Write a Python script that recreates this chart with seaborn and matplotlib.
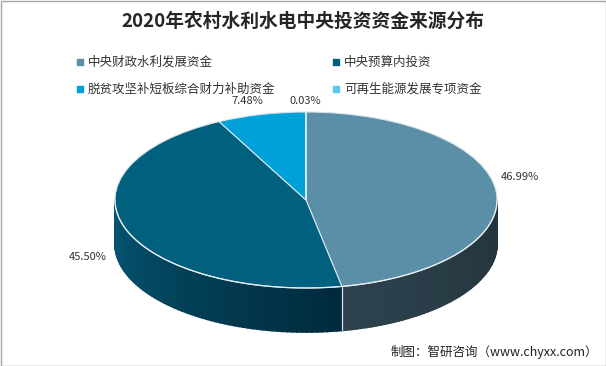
import numpy as np
import seaborn as sns
import matplotlib.pyplot as plt
from matplotlib.transforms import Affine2D
from matplotlib.colors import to_rgb

# data
categories = ['中央财政水利发展资金', '中央预算内投资', '脱贫攻坚补短板综合财力补助资金', '可再生能源发展专项资金']
shares = [46.99, 45.50, 7.48, 0.03]
pct_labels = ['46.99%', '45.50%', '7.48%', '0.03%']
top_colors = ['#5b8fa8', '#02607f', '#00a0d9', '#5bc8f0']
side_colors = [('#2e434e', '#22343d'), ('#045876', '#012a3c'), ('#00809f', '#005f7f'), ('#4aa8c8', '#3a90b0')]

sns.set_theme(style='white')
plt.rcParams['font.family'] = ['Noto Sans CJK SC', 'DejaVu Sans']

fig = plt.figure(figsize=(6.06, 3.66), dpi=100)
ax = fig.add_axes([0, 0, 1, 1])

cx, cy, r = 306, 166, 191
k = 88 / 191
depth = 44
squash = Affine2D().translate(-cx, -cy).scale(1, k).translate(cx, cy) + ax.transData

# top face
wedges, _ = ax.pie(shares, colors=top_colors, startangle=90, counterclock=False,
                   center=(cx, cy), radius=r, frame=True,
                   wedgeprops=dict(edgecolor='#d8e4ea', linewidth=0.8))
ax.set_xlim(0, 606)
ax.set_ylim(0, 366)
ax.set_aspect('auto')
ax.axis('off')
for w in wedges:
    w.set_transform(squash)
    w.set_zorder(3)

# front side of the cylinder, drawn as thin shaded strips
for w, (c0, c1) in zip(wedges, side_colors):
    t1, t2 = w.theta1, w.theta2
    # bring the range into the front half (-180..0)
    for shift in (-360, 0, 360):
        a, b = max(t1 + shift, -180), min(t2 + shift, 0)
        if b <= a:
            continue
        n = max(int((b - a) / 1.5), 1)
        edges = np.linspace(a, b, n + 1)
        ca, cb = np.array(to_rgb(c0)), np.array(to_rgb(c1))
        for i in range(n):
            th = np.radians(np.linspace(edges[i], edges[i + 1], 4))
            xs = cx + r * np.cos(th)
            ys = cy + r * k * np.sin(th)
            f = (i + 0.5) / n
            col = ca * (1 - f) + cb * f
            ax.fill(np.r_[xs, xs[::-1]], np.r_[ys, ys[::-1] - depth],
                    color=col, lw=1.2, ec=col, zorder=2)
        # boundary lines at the visible cut
        for edge in (a, b):
            if -179 < edge < -1:
                ex = cx + r * np.cos(np.radians(edge))
                ey = cy + r * k * np.sin(np.radians(edge))
                ax.plot([ex, ex], [ey, ey - depth], color='#d8e4ea', lw=0.8, zorder=4)

# light rim on the front edge
th = np.radians(np.linspace(-180, 0, 200))
ax.plot(cx + r * np.cos(th), cy + r * k * np.sin(th), color='#e6eef2', lw=0.9, zorder=4)

# percentage labels
label_pos = [(520, 189), (88, 109), (247, 265), (305, 265)]
for (x, y), t in zip(label_pos, pct_labels):
    ax.text(x, y, t, fontsize=8, color='#333333', ha='center', va='center', zorder=5)

# title
fig.text(0.5, 1 - 21 / 366, '2020年农村水利水电中央投资资金来源分布', ha='center', va='center',
         fontsize=13.5, fontweight='bold', color='#262626')

# legend
leg_pos = [(80, 62), (336, 62), (80, 89), (336, 89)]
for (x, y), c, t in zip(leg_pos, top_colors, categories):
    ax.scatter([x], [366 - y], marker='s', s=14, color=c, zorder=5)
    ax.text(x + 8, 366 - y, t, fontsize=9, color='#333333', ha='left', va='center', zorder=5)

# source note
fig.text(1 - 8 / 606, 14 / 366, '制图：智研咨询（www.chyxx.com）', ha='right', va='center',
         fontsize=9, color='#222222')

# frame
ax.add_patch(plt.Rectangle((0.5, 0.5), 605, 365, fill=False, ec='#a6a6a6', lw=1, zorder=6))

fig.savefig('out.png', dpi=100)
